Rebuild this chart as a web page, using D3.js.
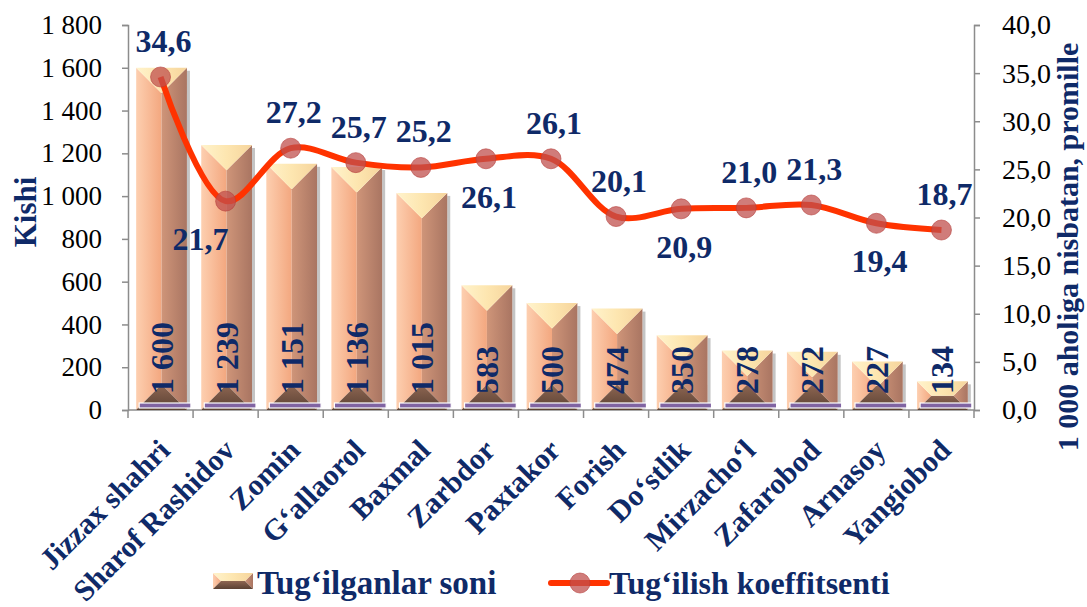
<!DOCTYPE html>
<html>
<head>
<meta charset="utf-8">
<script src="https://cdn.jsdelivr.net/npm/d3@7"></script>
<style>
  body { margin: 0; background: #fff; }
  svg text { font-family: "Liberation Serif", "Times New Roman", serif; }
</style>
</head>
<body>
<div id="chart"></div>
<script>
// Chart data
const categories = ["Jizzax shahri", "Sharof Rashidov", "Zomin", "G‘allaorol", "Baxmal", "Zarbdor",
  "Paxtakor", "Forish", "Do‘stlik", "Mirzacho‘l", "Zafarobod", "Arnasoy", "Yangiobod"];
const births = [1600, 1239, 1151, 1136, 1015, 583, 500, 474, 350, 278, 272, 227, 134];
const rates = [34.6, 21.7, 27.2, 25.7, 25.2, 26.1, 26.1, 20.1, 20.9, 21.0, 21.3, 19.4, 18.7];
const ratePos = ["above", "below", "above", "above", "above", "below", "above", "above", "below", "above", "above", "below", "above"];
const leftTicks = [0, 200, 400, 600, 800, 1000, 1200, 1400, 1600, 1800];
const rightTicks = [0, 5, 10, 15, 20, 25, 30, 35, 40];
const seriesNames = ["Tug‘ilganlar soni", "Tug‘ilish koeffitsenti"];
const leftTitle = "Kishi";
const rightTitle = "1 000 aholiga nisbatan, promille";

const W = 1087, H = 607;
const plot = { left: 128, right: 974, top: 25, bottom: 410 };
const navy = "#0f2a68";
const axisColor = "#8c8c8c";

const svg = d3.select("#chart").append("svg")
  .attr("width", W).attr("height", H);

// gradients for the bevelled bars
const defs = svg.append("defs");
function grad(id, x2, y2, stops) {
  const g = defs.append("linearGradient").attr("id", id)
    .attr("x1", 0).attr("y1", 0).attr("x2", x2).attr("y2", y2);
  stops.forEach(s => g.append("stop").attr("offset", s[0]).attr("stop-color", s[1]));
}
grad("gTop", 1, 0, [[0, "#fff3cc"], [0.5, "#fde6b0"], [1, "#f6d49c"]]);
grad("gLeft", 1, 0, [[0, "#fdcfb0"], [1, "#f3a77f"]]);
grad("gRight", 1, 0, [[0, "#cf9579"], [1, "#a97562"]]);
grad("gBottom", 0, 1, [[0, "#8e6652"], [1, "#5a4133"]]);

// scales
const x = d3.scaleBand().domain(categories).range([plot.left, plot.right]);
const y = d3.scaleLinear().domain([0, 1800]).range([plot.bottom, plot.top]);
const yR = d3.scaleLinear().domain([0, 40]).range([plot.bottom, plot.top]);
const barW = x.bandwidth() * 0.78;
const cx = d => x(d) + x.bandwidth() / 2;

const spaceFmt = d => d3.format(",")(d).replace(/,/g, " ");
const commaFmt = d => d3.format(".1f")(d).replace(".", ",");

// bevelled box polygons
function bevel(x0, y0, x1, y1) {
  const b = Math.min(x1 - x0, y1 - y0) / 2;
  return {
    top: [[x0, y0], [x1, y0], [x1 - b, y0 + b], [x0 + b, y0 + b]],
    left: [[x0, y0], [x0 + b, y0 + b], [x0 + b, y1 - b], [x0, y1]],
    right: [[x1, y0], [x1, y1], [x1 - b, y1 - b], [x1 - b, y0 + b]],
    bottom: [[x0, y1], [x0 + b, y1 - b], [x1 - b, y1 - b], [x1, y1]],
    mid: [[x0 + b, y0 + b], [x1 - b, y0 + b], [x1 - b, y1 - b], [x0 + b, y1 - b]]
  };
}
function drawBevel(g, x0, y0, x1, y1) {
  const p = bevel(x0, y0, x1, y1);
  const pts = a => a.map(q => q.join(",")).join(" ");
  g.append("polygon").attr("points", pts(p.left)).attr("fill", "url(#gLeft)");
  g.append("polygon").attr("points", pts(p.right)).attr("fill", "url(#gRight)");
  g.append("polygon").attr("points", pts(p.mid)).attr("fill", "#e9a585");
  g.append("polygon").attr("points", pts(p.bottom)).attr("fill", "url(#gBottom)");
  g.append("polygon").attr("points", pts(p.top)).attr("fill", "url(#gTop)");
}

// axes
const leftAxis = svg.append("g")
  .attr("transform", `translate(${plot.left},0)`)
  .call(d3.axisLeft(y).tickValues(leftTicks).tickFormat(spaceFmt).tickSize(6).tickPadding(20));
const rightAxis = svg.append("g")
  .attr("transform", `translate(${plot.right},0)`)
  .call(d3.axisRight(yR).tickValues(rightTicks).tickFormat(commaFmt).tickSize(6).tickPadding(22));
[leftAxis, rightAxis].forEach(a => {
  a.select(".domain").attr("stroke", axisColor).attr("stroke-width", 1.5);
  a.selectAll(".tick line").attr("stroke", axisColor).attr("stroke-width", 1.5);
  a.selectAll(".tick text").attr("fill", "#000").style("font-size", "27px")
    .style("font-family", "'Liberation Serif', serif");
});
rightAxis.selectAll(".tick text").style("font-size", "28px");

// x axis: baseline + tick marks between categories
const bottomAxis = svg.append("g");
bottomAxis.append("line")
  .attr("x1", plot.left).attr("x2", plot.right)
  .attr("y1", y(0)).attr("y2", y(0))
  .attr("stroke", axisColor).attr("stroke-width", 1.5);
bottomAxis.selectAll("line.tk")
  .data(categories.map(c => x(c)).concat([plot.right]))
  .enter().append("line").attr("class", "tk")
  .attr("x1", d => d).attr("x2", d => d)
  .attr("y1", y(0)).attr("y2", y(0) + 8)
  .attr("stroke", axisColor).attr("stroke-width", 1.5);

// bars
const bars = svg.append("g");
categories.forEach((c, i) => {
  const x0 = cx(c) - barW / 2 + 1, x1 = cx(c) + barW / 2 + 1;
  const g = bars.append("g");
  // right shadow
  g.append("rect").attr("x", x1).attr("y", y(births[i]) + 3)
    .attr("width", 3).attr("height", y(0) - y(births[i]) - 3)
    .attr("fill", "#9c9c9c").attr("opacity", 0.6);
  drawBevel(g, x0, y(births[i]), x1, y(0));
  // purple floor strip
  g.append("rect").attr("x", x0 + 3).attr("y", y(0) - 7)
    .attr("width", barW + 1).attr("height", 5)
    .attr("fill", "#8064a2").attr("stroke", "#fff").attr("stroke-width", 1.2);
});

// bar value labels (rotated, from the base)
svg.append("g").selectAll("text")
  .data(categories)
  .enter().append("text")
  .attr("transform", d => `translate(${cx(d) + 1},${y(0) - 16}) rotate(-90)`)
  .attr("dominant-baseline", "central")
  .attr("text-anchor", "start")
  .attr("fill", navy)
  .style("font-size", "32px").style("font-weight", "bold")
  .text((d, i) => spaceFmt(births[i]));

// rate line
const line = d3.line()
  .x((d, i) => cx(categories[i]))
  .y(d => yR(d))
  .curve(d3.curveCatmullRom.alpha(0.5));
svg.append("path")
  .datum(rates)
  .attr("d", line)
  .attr("fill", "none")
  .attr("stroke", "#ff3300")
  .attr("stroke-width", 6)
  .attr("stroke-linejoin", "round");

svg.append("g").selectAll("circle")
  .data(rates)
  .enter().append("circle")
  .attr("cx", (d, i) => cx(categories[i]))
  .attr("cy", d => yR(d))
  .attr("r", 10)
  .attr("fill", "#c0504d").attr("fill-opacity", 0.75)
  .attr("stroke", "#b5403c").attr("stroke-opacity", 0.6);

// rate labels
const nudge = { 1: -28 };
svg.append("g").selectAll("text")
  .data(rates)
  .enter().append("text")
  .attr("x", (d, i) => cx(categories[i]) + (nudge[i] || 0) + 3)
  .attr("y", (d, i) => yR(d) + (ratePos[i] === "above" ? -36 : 38))
  .attr("text-anchor", "middle")
  .attr("dominant-baseline", "central")
  .attr("fill", navy)
  .style("font-size", "32px").style("font-weight", "bold")
  .text(d => commaFmt(d));

// category labels
svg.append("g").selectAll("text")
  .data(categories)
  .enter().append("text")
  .attr("transform", d => `translate(${cx(d) + 11},${y(0) + 42}) rotate(-45)`)
  .attr("text-anchor", "end")
  .attr("fill", navy)
  .style("font-size", "30px").style("font-weight", "bold")
  .text(d => d);

// axis titles
svg.append("text")
  .attr("transform", `translate(36,212) rotate(-90)`)
  .attr("text-anchor", "middle")
  .attr("fill", navy)
  .style("font-size", "31px").style("font-weight", "bold")
  .text(leftTitle);
svg.append("text")
  .attr("transform", `translate(1078,247) rotate(-90)`)
  .attr("text-anchor", "middle")
  .attr("fill", navy)
  .style("font-size", "30px").style("font-weight", "bold")
  .text(rightTitle);

// legend
const legend = svg.append("g");
drawBevel(legend.append("g"), 213, 573, 253, 589);
legend.append("text").attr("x", 257).attr("y", 594)
  .attr("fill", navy).style("font-size", "33px").style("font-weight", "bold")
  .text(seriesNames[0]);
legend.append("line").attr("x1", 551).attr("x2", 607).attr("y1", 583).attr("y2", 583)
  .attr("stroke", "#ff3300").attr("stroke-width", 6).attr("stroke-linecap", "round");
legend.append("circle").attr("cx", 580).attr("cy", 583).attr("r", 10)
  .attr("fill", "#c0504d").attr("fill-opacity", 0.75)
  .attr("stroke", "#b5403c").attr("stroke-opacity", 0.6);
legend.append("text").attr("x", 609).attr("y", 594)
  .attr("fill", navy).style("font-size", "32px").style("font-weight", "bold")
  .text(seriesNames[1]);
</script>
</body>
</html>
